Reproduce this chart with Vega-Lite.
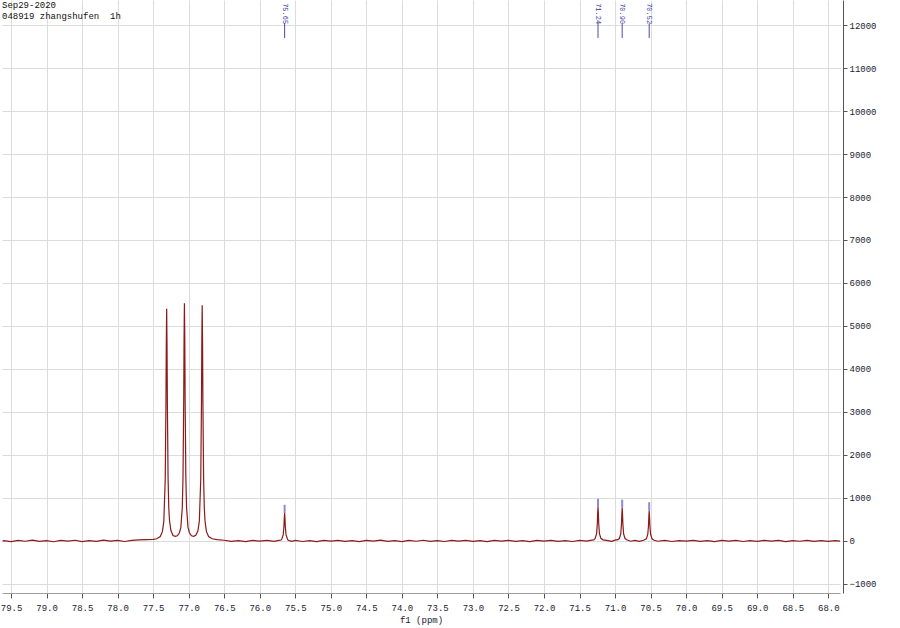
{
  "$schema": "https://vega.github.io/schema/vega-lite/v6.json",
  "width": 838,
  "height": 593,
  "autosize": "none",
  "padding": {"left": 2, "top": 0, "right": 60, "bottom": 35},
  "background": "white",
  "config": {
    "view": {"stroke": null},
    "axis": {
      "labelFont": "Liberation Mono",
      "labelFontSize": 9,
      "labelColor": "#222233",
      "titleFont": "Liberation Mono",
      "titleFontSize": 9,
      "titleFontWeight": "normal",
      "titleColor": "#222233",
      "gridColor": "#dcdcdc",
      "gridWidth": 1
    },
    "axisX": {"tickCount": 24},
    "axisY": {"tickCount": 14}
  },
  "datasets": {
    "spec": [
      {"ppm": 79.62, "i": -3},
      {"ppm": 79.60, "i": 5}, {"ppm": 79.50, "i": -15}, {"ppm": 79.40, "i": 10}, {"ppm": 79.30, "i": -8},
      {"ppm": 79.20, "i": 18}, {"ppm": 79.10, "i": -12}, {"ppm": 79.00, "i": 6}, {"ppm": 78.90, "i": -20},
      {"ppm": 78.80, "i": 12}, {"ppm": 78.70, "i": -5}, {"ppm": 78.60, "i": 15}, {"ppm": 78.50, "i": -18},
      {"ppm": 78.40, "i": 8}, {"ppm": 78.30, "i": -10}, {"ppm": 78.20, "i": 20}, {"ppm": 78.10, "i": -6},
      {"ppm": 78.00, "i": 10}, {"ppm": 77.90, "i": -14}, {"ppm": 77.80, "i": 12}, {"ppm": 77.70, "i": 22},
      {"ppm": 77.60, "i": 28}, {"ppm": 77.50, "i": 35}, {"ppm": 77.45, "i": 50}, {"ppm": 77.40, "i": 100},
      {"ppm": 77.37, "i": 215}, {"ppm": 77.35, "i": 455}, {"ppm": 77.33, "i": 1440}, {"ppm": 77.32, "i": 3190},
      {"ppm": 77.315, "i": 4600}, {"ppm": 77.31, "i": 5400}, {"ppm": 77.305, "i": 4600}, {"ppm": 77.30, "i": 3200},
      {"ppm": 77.29, "i": 1450}, {"ppm": 77.28, "i": 760}, {"ppm": 77.27, "i": 480}, {"ppm": 77.25, "i": 240},
      {"ppm": 77.22, "i": 125}, {"ppm": 77.19, "i": 105}, {"ppm": 77.16, "i": 120}, {"ppm": 77.13, "i": 190},
      {"ppm": 77.11, "i": 320}, {"ppm": 77.09, "i": 780}, {"ppm": 77.08, "i": 1480}, {"ppm": 77.07, "i": 3260},
      {"ppm": 77.065, "i": 4710}, {"ppm": 77.06, "i": 5530}, {"ppm": 77.055, "i": 4710}, {"ppm": 77.05, "i": 3260},
      {"ppm": 77.04, "i": 1480}, {"ppm": 77.03, "i": 780}, {"ppm": 77.01, "i": 320}, {"ppm": 76.99, "i": 190},
      {"ppm": 76.96, "i": 120}, {"ppm": 76.93, "i": 105}, {"ppm": 76.90, "i": 130}, {"ppm": 76.87, "i": 235},
      {"ppm": 76.85, "i": 465}, {"ppm": 76.83, "i": 1450}, {"ppm": 76.82, "i": 3240}, {"ppm": 76.815, "i": 4670},
      {"ppm": 76.81, "i": 5480}, {"ppm": 76.805, "i": 4670}, {"ppm": 76.80, "i": 3240}, {"ppm": 76.79, "i": 1450},
      {"ppm": 76.78, "i": 760}, {"ppm": 76.77, "i": 460}, {"ppm": 76.75, "i": 215}, {"ppm": 76.72, "i": 100},
      {"ppm": 76.67, "i": 50}, {"ppm": 76.60, "i": 28}, {"ppm": 76.50, "i": 15}, {"ppm": 76.40, "i": -10},
      {"ppm": 76.30, "i": 8}, {"ppm": 76.20, "i": -15}, {"ppm": 76.10, "i": 12}, {"ppm": 76.00, "i": -6},
      {"ppm": 75.90, "i": 10}, {"ppm": 75.80, "i": -12}, {"ppm": 75.75, "i": 8}, {"ppm": 75.70, "i": 20},
      {"ppm": 75.69, "i": 45}, {"ppm": 75.67, "i": 140}, {"ppm": 75.66, "i": 330}, {"ppm": 75.655, "i": 520},
      {"ppm": 75.65, "i": 650}, {"ppm": 75.645, "i": 520}, {"ppm": 75.64, "i": 330}, {"ppm": 75.63, "i": 140},
      {"ppm": 75.61, "i": 45}, {"ppm": 75.60, "i": 15}, {"ppm": 75.55, "i": -10}, {"ppm": 75.50, "i": 12},
      {"ppm": 75.40, "i": -14}, {"ppm": 75.30, "i": 6}, {"ppm": 75.20, "i": -18}, {"ppm": 75.10, "i": 10},
      {"ppm": 75.00, "i": -6}, {"ppm": 74.90, "i": 14}, {"ppm": 74.80, "i": -12}, {"ppm": 74.70, "i": 8},
      {"ppm": 74.60, "i": -16}, {"ppm": 74.50, "i": 10}, {"ppm": 74.40, "i": -4}, {"ppm": 74.30, "i": 16},
      {"ppm": 74.20, "i": -12}, {"ppm": 74.10, "i": 6}, {"ppm": 74.00, "i": -18}, {"ppm": 73.90, "i": 12},
      {"ppm": 73.80, "i": -8}, {"ppm": 73.70, "i": 15}, {"ppm": 73.60, "i": -10}, {"ppm": 73.50, "i": 6},
      {"ppm": 73.40, "i": -14}, {"ppm": 73.30, "i": 10}, {"ppm": 73.20, "i": -6}, {"ppm": 73.10, "i": 14},
      {"ppm": 73.00, "i": -12}, {"ppm": 72.90, "i": 8}, {"ppm": 72.80, "i": -16}, {"ppm": 72.70, "i": 10},
      {"ppm": 72.60, "i": -4}, {"ppm": 72.50, "i": 12}, {"ppm": 72.40, "i": -12}, {"ppm": 72.30, "i": 6},
      {"ppm": 72.20, "i": -18}, {"ppm": 72.10, "i": 10}, {"ppm": 72.00, "i": -6}, {"ppm": 71.90, "i": 14},
      {"ppm": 71.80, "i": -10}, {"ppm": 71.70, "i": 8}, {"ppm": 71.60, "i": -14}, {"ppm": 71.50, "i": 10},
      {"ppm": 71.40, "i": -6}, {"ppm": 71.35, "i": 12}, {"ppm": 71.30, "i": 25}, {"ppm": 71.28, "i": 55},
      {"ppm": 71.26, "i": 170}, {"ppm": 71.25, "i": 400}, {"ppm": 71.245, "i": 640}, {"ppm": 71.24, "i": 790},
      {"ppm": 71.235, "i": 640}, {"ppm": 71.23, "i": 400}, {"ppm": 71.22, "i": 170}, {"ppm": 71.20, "i": 60},
      {"ppm": 71.17, "i": 25}, {"ppm": 71.10, "i": 5}, {"ppm": 71.05, "i": -10}, {"ppm": 71.00, "i": 18},
      {"ppm": 70.96, "i": 30}, {"ppm": 70.94, "i": 55}, {"ppm": 70.92, "i": 165}, {"ppm": 70.91, "i": 390},
      {"ppm": 70.905, "i": 620}, {"ppm": 70.90, "i": 770}, {"ppm": 70.895, "i": 620}, {"ppm": 70.89, "i": 390},
      {"ppm": 70.88, "i": 165}, {"ppm": 70.86, "i": 55}, {"ppm": 70.83, "i": 20}, {"ppm": 70.78, "i": -8},
      {"ppm": 70.72, "i": 12}, {"ppm": 70.66, "i": -10}, {"ppm": 70.60, "i": 15}, {"ppm": 70.56, "i": 50},
      {"ppm": 70.54, "i": 150}, {"ppm": 70.53, "i": 350}, {"ppm": 70.525, "i": 560}, {"ppm": 70.52, "i": 700},
      {"ppm": 70.515, "i": 560}, {"ppm": 70.51, "i": 350}, {"ppm": 70.50, "i": 150}, {"ppm": 70.48, "i": 50},
      {"ppm": 70.45, "i": 15}, {"ppm": 70.40, "i": -8}, {"ppm": 70.30, "i": 12}, {"ppm": 70.20, "i": -14},
      {"ppm": 70.10, "i": 8}, {"ppm": 70.00, "i": -6}, {"ppm": 69.90, "i": 14}, {"ppm": 69.80, "i": -12},
      {"ppm": 69.70, "i": 6}, {"ppm": 69.60, "i": -16}, {"ppm": 69.50, "i": 10}, {"ppm": 69.40, "i": -4},
      {"ppm": 69.30, "i": 12}, {"ppm": 69.20, "i": -14}, {"ppm": 69.10, "i": 8}, {"ppm": 69.00, "i": -10},
      {"ppm": 68.90, "i": 14}, {"ppm": 68.80, "i": -6}, {"ppm": 68.70, "i": 10}, {"ppm": 68.60, "i": -16},
      {"ppm": 68.50, "i": 8}, {"ppm": 68.40, "i": -8}, {"ppm": 68.30, "i": 12}, {"ppm": 68.20, "i": -12},
      {"ppm": 68.10, "i": 6}, {"ppm": 68.00, "i": -10}, {"ppm": 67.90, "i": 8}, {"ppm": 67.83, "i": -4}
    ],
    "peaks": [
      {"ppm": 75.65, "label": "75.65", "h": 650, "top": 840},
      {"ppm": 71.24, "label": "71.24", "h": 790, "top": 980},
      {"ppm": 70.90, "label": "70.90", "h": 770, "top": 960},
      {"ppm": 70.52, "label": "70.52", "h": 700, "top": 900}
    ],
    "header": [
      {"line": "Sep29-2020", "row": 1},
      {"line": "048919 zhangshufen\u00a0\u00a01h", "row": 2}
    ]
  },
  "layer": [
    {
      "data": {"name": "spec"},
      "mark": {"type": "line", "color": "#8b1a1a", "strokeWidth": 1.2, "clip": true},
      "encoding": {
        "x": {
          "field": "ppm", "type": "quantitative",
          "scale": {"domain": [67.835, 79.627], "reverse": true, "nice": false, "zero": false},
          "axis": {
            "orient": "bottom",
            "values": [68, 68.5, 69, 69.5, 70, 70.5, 71, 71.5, 72, 72.5, 73, 73.5, 74, 74.5, 75, 75.5, 76, 76.5, 77, 77.5, 78, 78.5, 79, 79.5],
            "tickCount": 24,
            "format": ".1f",
            "grid": true,
            "domainColor": "#a0a0a0",
            "tickColor": "#555555",
            "tickSize": 5,
            "labelPadding": 5,
            "labelOverlap": false,
            "labelBound": false,
            "labelFlush": false,
            "title": "f1 (ppm)",
            "titlePadding": 3
          }
        },
        "y": {
          "field": "i", "type": "quantitative",
          "scale": {"domain": [-1212, 12583], "nice": false, "zero": false},
          "axis": {
            "orient": "right",
            "offset": 3,
            "values": [-1000, 0, 1000, 2000, 3000, 4000, 5000, 6000, 7000, 8000, 9000, 10000, 11000, 12000],
            "format": "d",
            "grid": true,
            "domainColor": "#555555",
            "tickColor": "#555555",
            "tickSize": 4,
            "labelPadding": 2,
            "labelOverlap": false,
            "labelBound": false,
            "labelFlush": false,
            "title": null
          }
        }
      }
    },
    {
      "data": {"name": "peaks"},
      "mark": {"type": "rule", "color": "#8a8ad8", "strokeWidth": 2},
      "encoding": {
        "x": {"field": "ppm", "type": "quantitative"},
        "y": {"field": "h", "type": "quantitative"},
        "y2": {"field": "top"}
      }
    },
    {
      "data": {"name": "peaks"},
      "mark": {"type": "rule", "color": "#4a4aa8", "strokeWidth": 1},
      "encoding": {
        "x": {"field": "ppm", "type": "quantitative"},
        "y": {"datum": 11700},
        "y2": {"datum": 12040}
      }
    },
    {
      "data": {"name": "peaks"},
      "mark": {"type": "text", "angle": 90, "align": "left", "baseline": "middle", "font": "Liberation Mono", "fontSize": 7, "color": "#3a3aa0"},
      "encoding": {
        "x": {"field": "ppm", "type": "quantitative"},
        "y": {"datum": 12510},
        "text": {"field": "label"}
      }
    },
    {
      "data": {"name": "header"},
      "transform": [{"filter": "datum.row == 1"}],
      "mark": {"type": "text", "align": "left", "baseline": "top", "font": "Liberation Mono", "fontSize": 9, "color": "#111111"},
      "encoding": {
        "x": {"datum": 79.627},
        "y": {"datum": 12560},
        "text": {"field": "line"}
      }
    },
    {
      "data": {"name": "header"},
      "transform": [{"filter": "datum.row == 2"}],
      "mark": {"type": "text", "align": "left", "baseline": "top", "font": "Liberation Mono", "fontSize": 9, "color": "#111111"},
      "encoding": {
        "x": {"datum": 79.627},
        "y": {"datum": 12300},
        "text": {"field": "line"}
      }
    }
  ]
}
